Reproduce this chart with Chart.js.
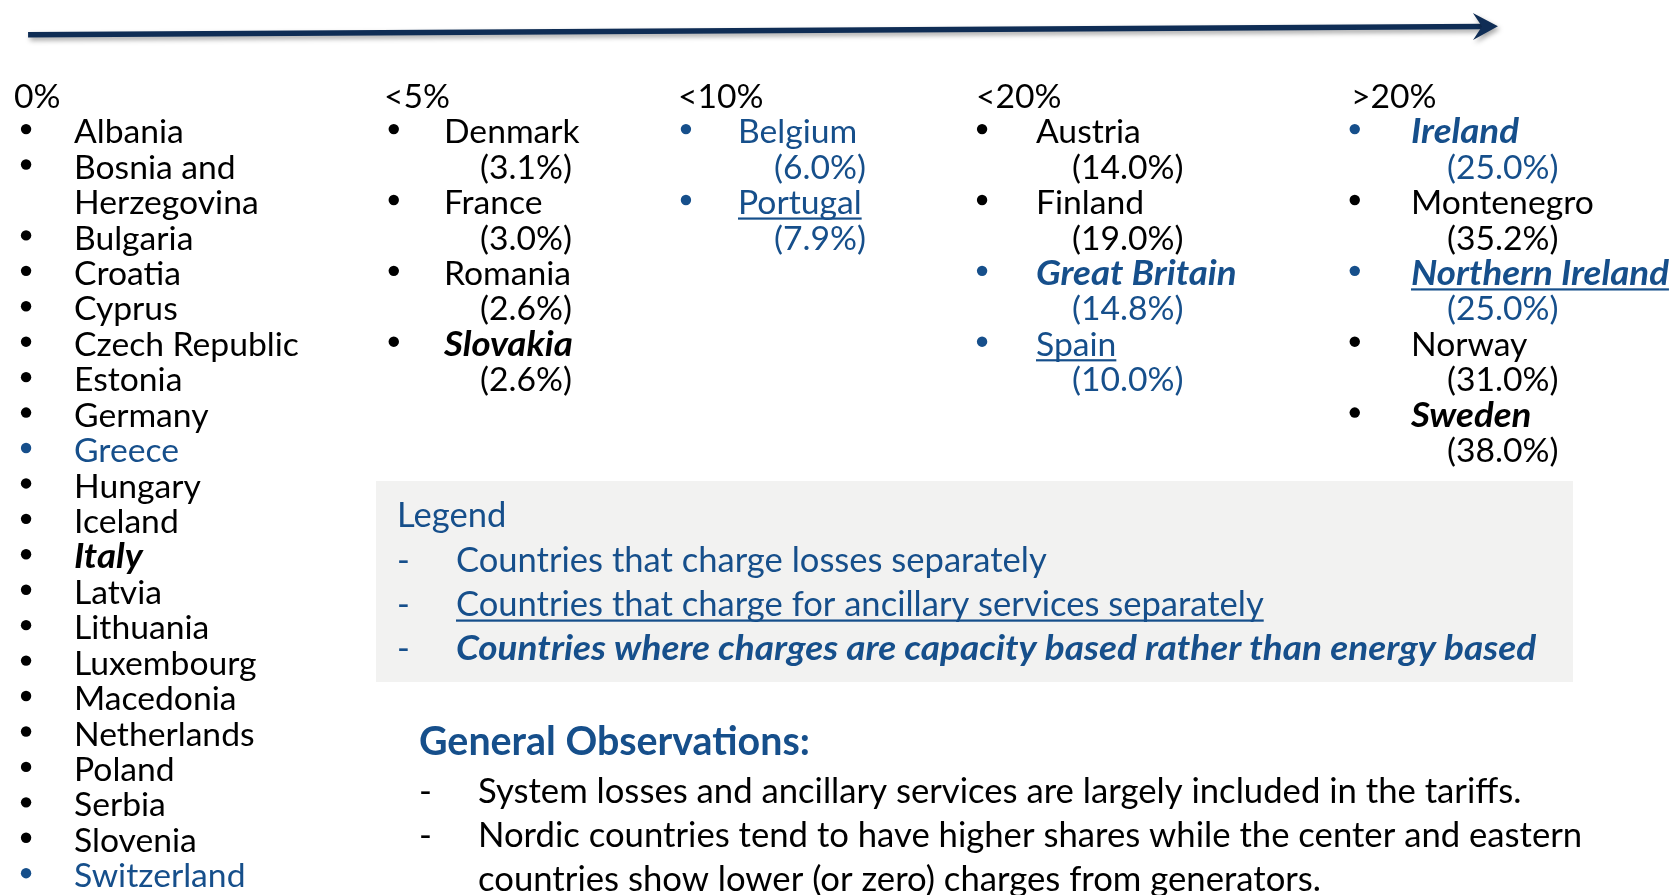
<!DOCTYPE html>
<html>
<head>
<meta charset="utf-8">
<script src="https://cdn.jsdelivr.net/npm/chart.js@4.4.1/dist/chart.umd.min.js"></script>
<style>
  html, body { margin: 0; padding: 0; background: #fff; overflow: hidden; }
  canvas { display: block; }
</style>
</head>
<body>
<canvas id="slide" width="1672" height="895"></canvas>
<script>
// share of network charges paid by generators, grouped by band
const tierLabels = ['0%', '<5%', '<10%', '<20%', '>20%'];

const noCharge = ['Albania', 'Bosnia and Herzegovina', 'Bulgaria', 'Croatia', 'Cyprus',
    'Czech Republic', 'Estonia', 'Germany', 'Greece', 'Hungary', 'Iceland', 'Italy',
    'Latvia', 'Lithuania', 'Luxembourg', 'Macedonia', 'Netherlands', 'Poland', 'Serbia',
    'Slovenia', 'Switzerland'];

const under5 = ['Denmark', 'France', 'Romania', 'Slovakia'];
const under5Share = [3.1, 3.0, 2.6, 2.6];

const under10 = ['Belgium', 'Portugal'];
const under10Share = [6.0, 7.9];

const under20 = ['Austria', 'Finland', 'Great Britain', 'Spain'];
const under20Share = [14.0, 19.0, 14.8, 10.0];

const over20 = ['Ireland', 'Montenegro', 'Northern Ireland', 'Norway', 'Sweden'];
const over20Share = [25.0, 35.2, 25.0, 31.0, 38.0];

// legend categories
const chargesLosses = ['Greece', 'Switzerland', 'Belgium', 'Portugal', 'Great Britain', 'Spain', 'Ireland', 'Northern Ireland'];
const chargesAncillary = ['Portugal', 'Spain', 'Northern Ireland'];
const capacityBased = ['Italy', 'Slovakia', 'Great Britain', 'Ireland', 'Northern Ireland', 'Sweden'];

const legendTitle = 'Legend';
const legendItems = [
    'Countries that charge losses separately',
    'Countries that charge for ancillary services separately',
    'Countries where charges are capacity based rather than energy based'
];
const notesTitle = 'General Observations:';
const notes = [
    'System losses and ancillary services are largely included in the tariffs.',
    'Nordic countries tend to have higher shares while the center and eastern countries show lower (or zero) charges from generators.'
];

const tierCountries = [noCharge, under5, under10, under20, over20];
const tierShares = [null, under5Share, under10Share, under20Share, over20Share];

// ---- layout / style ----
const FONT = 'Lato';
const BLUE = '#164f8b';
const NAVY = '#0f2d55';
const INK = '#000000';
const colX = [14, 384, 678, 976, 1351];
const bulletDx = 7;
const textDx = 60;
const shareDx = 36;
const firstRowPx = 89.5;
const rowH = 35.85;
const col0Wrap = 250;
const biStretch = 1.09;   // bold italic runs wider in the original face

const mctx = document.createElement('canvas').getContext('2d');
const font = (size, bold, italic) => `${italic ? 'italic ' : ''}${bold ? 'bold ' : ''}${size}px ${FONT}`;
function fit(sample, target, bold, italic) {
    mctx.font = font(40, bold, italic);
    return 40 * target / mctx.measureText(sample).width;
}
const listSize = fit('Czech Republic', 225);
const legendSize = fit(legendItems[0], 591);
const notesTitleSize = fit(notesTitle, 391, true);
const notesSize = fit(notes[0], 1044);

function wrap(text, size, bold, italic, maxW) {
    mctx.font = font(size, bold, italic);
    const words = text.split(' ');
    const lines = [];
    let cur = '';
    words.forEach(w => {
        const test = cur ? cur + ' ' + w : w;
        if (cur && mctx.measureText(test).width > maxW) {
            lines.push(cur);
            cur = w;
        } else {
            cur = test;
        }
    });
    if (cur) lines.push(cur);
    return lines;
}

// one point (bullet) per country, row index on the y scale
const tierPoints = tierCountries.map((list, t) => {
    let row = 1;
    return list.map((name, i) => {
        const bi = capacityBased.includes(name);
        const lines = t === 0 ? wrap(name, listSize, bi, bi, col0Wrap) : [name];
        const share = tierShares[t] ? tierShares[t][i] : null;
        const p = { x: colX[t] + bulletDx, y: row, name, lines, share, tier: t };
        row += lines.length + (share !== null ? 1 : 0);
        return p;
    });
});

function say(ctx, str, x, y, o) {
    const sx = o.stretch || 1;
    ctx.save();
    ctx.translate(x, y);
    ctx.scale(sx, 1);
    ctx.font = font(o.size, o.bold, o.italic);
    ctx.fillStyle = o.color;
    ctx.textAlign = 'left';
    ctx.textBaseline = 'alphabetic';
    ctx.fillText(str, 0, 0);
    if (o.underline) {
        const w = ctx.measureText(str).width;
        ctx.fillRect(0, o.size * 0.1, w, Math.max(1.6, o.size * 0.065));
    }
    ctx.restore();
}

const slideText = {
    id: 'slideText',
    beforeDatasetsDraw(chart) {
        const ctx = chart.ctx;
        ctx.save();
        ctx.fillStyle = '#f2f2f1';
        ctx.fillRect(376, 481, 1197, 201);
        ctx.restore();
    },
    beforeDatasetDraw(chart, args) {
        if (args.index !== 0) return;
        const ctx = chart.ctx;
        ctx.save();
        ctx.shadowColor = 'rgba(0,0,0,0.35)';
        ctx.shadowBlur = 5;
        ctx.shadowOffsetX = 2;
        ctx.shadowOffsetY = 3;
    },
    afterDatasetDraw(chart, args) {
        if (args.index !== 0) return;
        const ctx = chart.ctx;
        const pts = chart.getDatasetMeta(0).data;
        const a = pts[pts.length - 2], b = pts[pts.length - 1];
        const ang = Math.atan2(b.y - a.y, b.x - a.x);
        ctx.translate(b.x, b.y);
        ctx.rotate(ang);
        ctx.beginPath();
        ctx.moveTo(15, 0);
        ctx.lineTo(-10, -13.5);
        ctx.lineTo(-1, 0);
        ctx.lineTo(-10, 13.5);
        ctx.closePath();
        ctx.fillStyle = NAVY;
        ctx.fill();
        ctx.restore();
    },
    afterDatasetsDraw(chart) {
        const ctx = chart.ctx;
        const ys = chart.scales.y;
        const base = listSize * 0.42;
        // column headings
        tierLabels.forEach((lab, t) => {
            say(ctx, lab, colX[t], ys.getPixelForValue(0) + base, { size: listSize, color: INK });
        });
        // countries
        tierPoints.forEach((pts, t) => {
            pts.forEach(p => {
                const blue = chargesLosses.includes(p.name);
                const bi = capacityBased.includes(p.name);
                const color = blue ? BLUE : INK;
                const tx = colX[t] + textDx;
                p.lines.forEach((ln, k) => {
                    const y = ys.getPixelForValue(p.y + k) + base;
                    say(ctx, ln, tx, y, { size: listSize, bold: bi, italic: bi, color,
                        stretch: bi ? biStretch : 1,
                        underline: chargesAncillary.includes(p.name) });
                });
                if (p.share !== null) {
                    const y = ys.getPixelForValue(p.y + p.lines.length) + base;
                    say(ctx, '(' + p.share.toFixed(1) + '%)', tx + shareDx, y, { size: listSize, color });
                }
            });
        });
        // legend box
        say(ctx, legendTitle, 397, 527, { size: legendSize, color: BLUE });
        legendItems.forEach((txt, i) => {
            const y = 572 + i * 44;
            say(ctx, '-', 397, y, { size: legendSize, color: BLUE });
            say(ctx, txt, 456, y, { size: legendSize, color: BLUE, underline: i === 1,
                bold: i === 2, italic: i === 2, stretch: i === 2 ? 1.07 : 1 });
        });
        // observations
        say(ctx, notesTitle, 419, 755, { size: notesTitleSize, bold: true, color: BLUE });
        let line = 0;
        notes.forEach(txt => {
            const lines = wrap(txt, notesSize, false, false, 1150);
            say(ctx, '-', 419, 803 + line * 44, { size: notesSize, color: INK });
            lines.forEach(ln => {
                say(ctx, ln, 478, 803 + line * 44, { size: notesSize, color: INK });
                line++;
            });
        });
    }
};

const datasets = [{
    label: 'arrow',
    data: [{ x: 23, y: 30 }, { x: 1487, y: 21.5 }],
    yAxisID: 'yPx',
    showLine: true,
    borderColor: NAVY,
    borderWidth: 5.5,
    pointRadius: 0,
    clip: false
}].concat(tierPoints.map((pts, t) => ({
    label: tierLabels[t],
    data: pts,
    yAxisID: 'y',
    pointRadius: 5.2,
    pointBorderWidth: 0,
    pointBackgroundColor: c => chargesLosses.includes(c.raw.name) ? BLUE : INK,
    clip: false
})));

new Chart(document.getElementById('slide'), {
    type: 'scatter',
    data: { datasets },
    options: {
        responsive: false,
        devicePixelRatio: 1,
        animation: false,
        events: [],
        layout: { padding: 0 },
        plugins: { legend: { display: false }, tooltip: { enabled: false }, title: { display: false } },
        scales: {
            x: { type: 'linear', bounds: 'data', min: 0, max: 1672, display: false },
            y: {
                type: 'linear', bounds: 'data', reverse: true, display: false,
                min: -firstRowPx / rowH,
                max: -firstRowPx / rowH + 895 / rowH
            },
            yPx: { type: 'linear', bounds: 'data', reverse: true, display: false, min: 0, max: 895 }
        }
    },
    plugins: [slideText]
});
</script>
</body>
</html>
